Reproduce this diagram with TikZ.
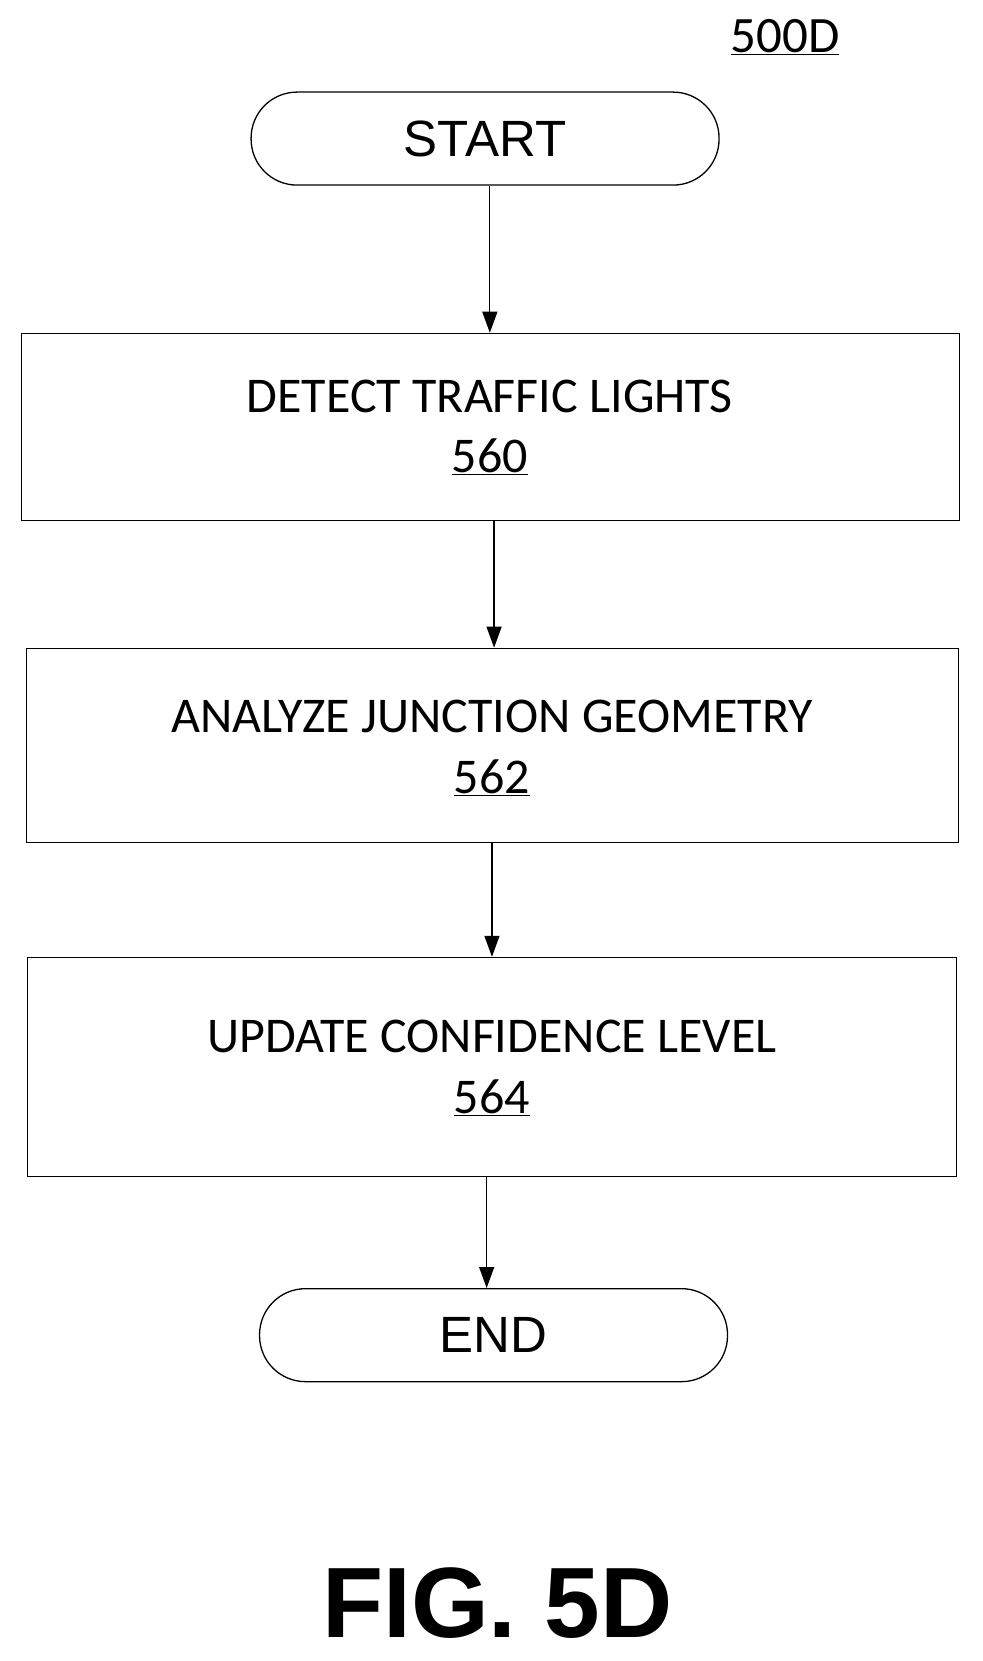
\documentclass[tikz,border=0pt]{standalone}
\usepackage{fontspec}
\setmainfont{Carlito}
\newfontfamily\arialf{Liberation Sans}
\usetikzlibrary{arrows.meta}
\begin{document}
\begin{tikzpicture}[x=1.058pt,y=-1.058pt,
  box/.style={draw,line width=1.3pt,inner sep=0pt},
  term/.style={draw,line width=1.3pt,rounded corners=46pt,inner sep=0pt,font=\arialf\fontsize{51}{56}\selectfont},
  lbl/.style={font=\fontsize{50}{56}\selectfont,inner sep=0pt},
  arr/.style={line width=1.3pt,-{Triangle[length=21pt,width=15pt]}}]
\useasboundingbox (0,0) rectangle (929,1570);
\node[lbl,font=\fontsize{51}{56}\selectfont] (ref) at (742,35) {\underline{500D}};
\node[term,minimum width=468pt,minimum height=93pt] (start) at (458.5,131) {START};
\node[box,minimum width=938pt,minimum height=187pt] (b1) at (463.5,403.5) {};
\node[lbl] (t1) at (463,375) {DETECT TRAFFIC LIGHTS};
\node[lbl] (n1) at (463,432) {\underline{560}};
\node[box,minimum width=932pt,minimum height=194pt] (b2) at (465.5,704.5) {};
\node[lbl] (t2) at (465,677) {ANALYZE JUNCTION GEOMETRY};
\node[lbl] (n2) at (465,735) {\underline{562}};
\node[box,minimum width=929pt,minimum height=219pt] (b3) at (465,1008.5) {};
\node[lbl] (t3) at (465,980) {UPDATE CONFIDENCE LEVEL};
\node[lbl] (n3) at (465,1038) {\underline{564}};
\node[term,minimum width=468pt,minimum height=93pt] (end) at (466.5,1262) {END};
\node[font=\arialf\bfseries\fontsize{100}{110}\selectfont,inner sep=0pt] (fig) at (470,1515) {FIG. 5D};
\draw[arr] (start.south -| 463,0) -- (b1.north -| 463,0);
\draw[arr] (b1.south -| 467,0) -- (b2.north -| 467,0);
\draw[arr] (b2.south -| 465,0) -- (b3.north -| 465,0);
\draw[arr] (b3.south -| 460,0) -- (end.north -| 460,0);
\end{tikzpicture}
\end{document}
